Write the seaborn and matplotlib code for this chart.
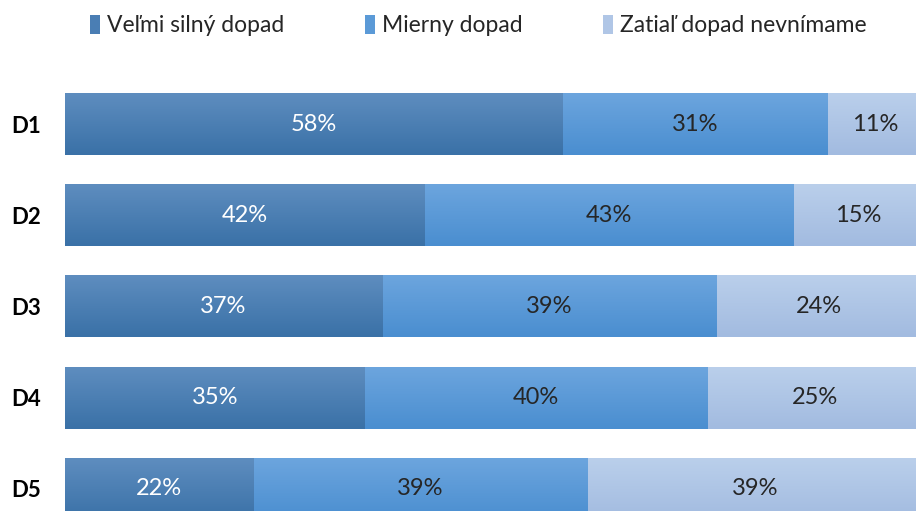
import numpy as np
import pandas as pd
import matplotlib
matplotlib.use("Agg")
import matplotlib.pyplot as plt
import seaborn as sns
from matplotlib.colors import LinearSegmentedColormap
from matplotlib.patches import Patch

# ── Data ────────────────────────────────────────────────────────────────
categories = ["D1", "D2", "D3", "D4", "D5"]
series_names = ["Veľmi silný dopad", "Mierny dopad", "Zatiaľ dopad nevnímame"]
strong = [58, 42, 37, 35, 22]
moderate = [31, 43, 39, 40, 39]
none_yet = [11, 15, 24, 25, 39]

# top / bottom of the vertical gradient for each series
grad_colors = [("#5e8dbf", "#3a71a7"), ("#6ca5de", "#4a8ed0"), ("#bacfeb", "#a2bbe0")]
legend_colors = ["#4a7eb4", "#5b9ad7", "#b0c6e6"]
label_colors = ["white", "#262626", "#262626"]

# ── Setup ───────────────────────────────────────────────────────────────
sns.set_theme(style="white")
plt.rcParams["font.family"] = ["Lato", "DejaVu Sans"]

df = pd.DataFrame({"cat": categories, "s0": strong, "s1": moderate, "s2": none_yet})
df["c0"] = df["s0"]
df["c1"] = df["s0"] + df["s1"]
df["c2"] = df["c1"] + df["s2"]

fig = plt.figure(figsize=(9.16, 5.11), dpi=100)
ax = fig.add_axes([65 / 916, -0.0455, 857 / 916, 0.8919])

# draw cumulative layers, widest first, each with a gradient overlay
layers = [("c2", 2), ("c1", 1), ("c0", 0)]
for order, (col, si) in enumerate(layers):
    n_before = len(ax.patches)
    sns.barplot(data=df, x=col, y="cat", orient="h", color=legend_colors[si],
                width=0.68, ax=ax, saturation=1)
    cmap = LinearSegmentedColormap.from_list(f"g{si}", [grad_colors[si][0], grad_colors[si][1]])
    grad = np.linspace(0, 1, 64).reshape(-1, 1)
    for p in ax.patches[n_before:]:
        p.set_zorder(2 + order * 2)
        p.set_linewidth(0)
        x0, y0 = p.get_x(), p.get_y()
        w, h = p.get_width(), p.get_height()
        im = ax.imshow(grad, cmap=cmap, aspect="auto", origin="upper",
                       extent=(x0, x0 + w, y0 + h, y0), zorder=3 + order * 2)
        im.set_clip_path(p)

ax.set_xlim(0, 100)
ax.set_ylim(4.5, -0.5)

# percentage labels at segment centres
lefts = [np.zeros(len(categories)), df["c0"].values, df["c1"].values]
vals = [strong, moderate, none_yet]
for si in range(3):
    for i, v in enumerate(vals[si]):
        ax.text(lefts[si][i] + v / 2, i, f"{v}%", ha="center", va="center",
                fontsize=17, color=label_colors[si], zorder=20)

ax.set_xlabel("")
ax.set_ylabel("")
ax.set_xticks([])
ax.tick_params(axis="y", length=0, pad=17)
for lab in ax.get_yticklabels():
    lab.set_fontweight("bold")
    lab.set_fontsize(16)
    lab.set_color("black")
sns.despine(ax=ax, left=True, bottom=True)

handles = [Patch(facecolor=c, edgecolor="none") for c in legend_colors]
fig.legend(handles, series_names, loc="center", bbox_to_anchor=(0.522, 0.95),
           ncol=3, frameon=False, fontsize=16.5, handlelength=0.45, handleheight=0.9,
           handletextpad=0.3, columnspacing=3.5)

fig.savefig("out.png", dpi=100)
